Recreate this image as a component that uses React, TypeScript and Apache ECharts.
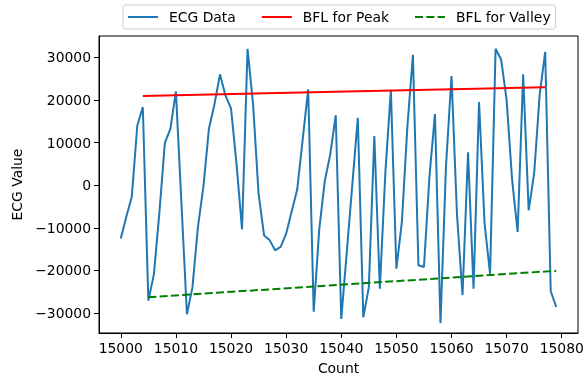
import React, { useEffect, useRef } from "react";
import * as echarts from "echarts";

const START_COUNT = 15000;
const ecgValues = [
  -12500, -7400, -2700, 14000, 18300, -27100, -21000, -6500, 9900, 13200,
  22000, -4000, -30300, -24000, -9800, -300, 13300, 19000, 26000, 21000,
  18000, 5000, -10400, 32000, 19000, -2000, -11800, -12900, -15300, -14500,
  -11400, -6200, -1100, 10700, 22500, -29700, -10500, 900, 7200, 16400,
  -31400, -15700, 0, 15800, -31000, -24000, 11500, -24300, 2900, 22300,
  -19600, -8600, 13800, 30600, -18800, -19200, 2000, 16700, -32400, 4400,
  25600, -7000, -25800, 7700, -24300, 19500, -9000, -20800, 32000, 29500,
  20000, 1200, -11000, 26000, -5900, 2800, 21300, 31300, -24900, -28600,
];
const peakFitX = [15004, 15077];
const peakFitY = [20900, 23000];
const valleyFitX = [15005, 15079];
const valleyFitY = [-26300, -20100];
const xTicks = [15000, 15010, 15020, 15030, 15040, 15050, 15060, 15070, 15080];
const yTicks = [-30000, -20000, -10000, 0, 10000, 20000, 30000];

const FONT = "DejaVu Sans";

export default function App() {
  const ref = useRef<HTMLDivElement>(null);
  useEffect(() => {
    if (!ref.current) return;
    const chart = echarts.init(ref.current, undefined, { renderer: "svg" });
    const ecgData = ecgValues.map((v, i) => [START_COUNT + i, v]);
    const peakData = peakFitX.map((x, i) => [x, peakFitY[i]]);
    const valleyData = valleyFitX.map((x, i) => [x, valleyFitY[i]]);
    const fmt = (v: number) => (v < 0 ? "\u2212" + Math.abs(v) : String(v));
    chart.setOption({
      animation: false,
      textStyle: { fontFamily: FONT },
      grid: {
        left: 99,
        right: 6,
        top: 36,
        bottom: 43,
        show: true,
        borderColor: "#000",
        borderWidth: 1,
        containLabel: false,
        outerBoundsMode: "none",
      },
      legend: {
        left: 123,
        top: 5,
        itemWidth: 30,
        itemHeight: 14,
        itemGap: 25,
        padding: [5, 5, 5, 4],
        borderColor: "#cccccc",
        borderWidth: 1,
        borderRadius: 3,
        itemStyle: { opacity: 0 },
        textStyle: { fontFamily: FONT, fontSize: 13.9, color: "#000", padding: [0, 0, 0, 6] },
        data: ["ECG Data", "BFL for Peak", "BFL for Valley"],
      },
      xAxis: {
        type: "value",
        min: 14996.05,
        max: 15082.95,
        name: "Count",
        nameLocation: "middle",
        nameGap: 28,
        nameTextStyle: { fontFamily: FONT, fontSize: 13.9, color: "#000" },
        splitLine: { show: false },
        axisLine: { show: true, onZero: false, lineStyle: { color: "#000", width: 1 } },
        axisTick: { show: true, length: 5, lineStyle: { color: "#000" }, customValues: xTicks },
        axisLabel: {
          customValues: xTicks,
          margin: 8,
          fontFamily: FONT,
          fontSize: 13.9,
          color: "#000",
          formatter: (v: number) => String(v),
        },
      },
      yAxis: {
        type: "value",
        min: -34700,
        max: 35000,
        name: "ECG Value",
        nameLocation: "middle",
        nameGap: 74,
        nameRotate: 90,
        nameTextStyle: { fontFamily: FONT, fontSize: 13.9, color: "#000" },
        splitLine: { show: false },
        axisLine: { show: true, onZero: false, lineStyle: { color: "#000", width: 1 } },
        axisTick: { show: true, length: 5, lineStyle: { color: "#000" }, customValues: yTicks },
        axisLabel: {
          customValues: yTicks,
          margin: 8,
          fontFamily: FONT,
          fontSize: 13.9,
          color: "#000",
          formatter: fmt,
        },
      },
      series: [
        {
          name: "ECG Data",
          type: "line",
          data: ecgData,
          symbol: "none",
          showSymbol: false,
          lineStyle: { color: "#1f77b4", width: 2 },
          itemStyle: { color: "#1f77b4" },
        },
        {
          name: "BFL for Peak",
          type: "line",
          data: peakData,
          symbol: "none",
          showSymbol: false,
          lineStyle: { color: "#ff0000", width: 2 },
          itemStyle: { color: "#ff0000" },
        },
        {
          name: "BFL for Valley",
          type: "line",
          data: valleyData,
          symbol: "none",
          showSymbol: false,
          lineStyle: { color: "#008000", width: 2, type: [8, 3.3] },
          itemStyle: { color: "#008000" },
        },
      ],
    });
    return () => chart.dispose();
  }, []);
  return (
    <div
      ref={ref}
      style={{ position: "fixed", left: 0, top: 0, width: 584, height: 376 }}
    />
  );
}
